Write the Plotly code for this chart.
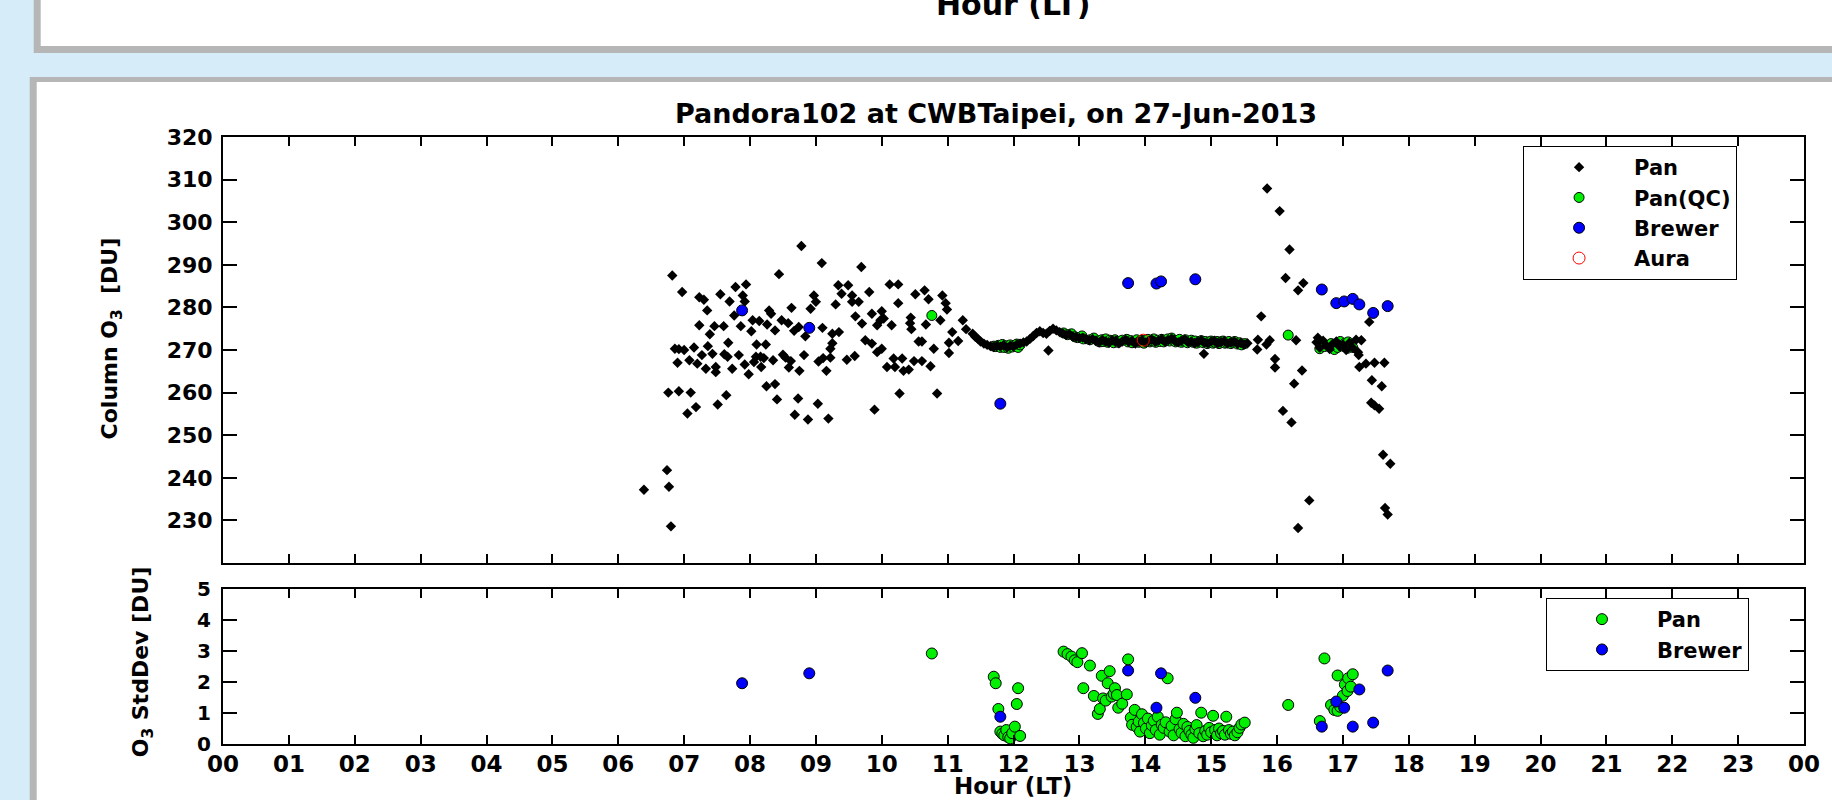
import plotly.graph_objects as go

# ---------------- data ----------------
pan_hour = [6.39, 6.74, 6.77, 6.80, 6.76, 6.92, 7.10, 7.05, 7.18, 6.82, 6.97, 7.23, 7.30, 7.55, 7.78, 7.94,
            7.89, 7.69, 7.92, 7.35, 7.76, 8.29, 8.32, 8.63, 8.92, 8.97, 9.00, 8.44, 8.78, 9.09, 9.69, 9.34,
            9.49, 9.39, 9.55, 9.81, 9.55, 9.65, 9.30, 7.23, 7.46, 7.60, 7.39, 8.04, 8.14, 8.26, 7.86, 8.02,
            8.38, 8.48, 8.58, 8.67, 8.74, 9.10, 8.84, 9.25, 9.35, 9.60, 9.70, 9.85, 9.75, 9.85, 9.93, 6.86,
            6.92, 7.00, 7.15, 7.36, 7.67, 8.10, 8.24, 9.25, 9.22, 6.90, 7.08, 7.20, 7.27, 7.43, 7.61, 7.66,
            7.83, 7.33, 7.48, 7.48, 7.73, 7.92, 7.98, 8.09, 8.16, 8.21, 8.06, 8.17, 8.35, 8.50, 8.54, 8.62,
            8.82, 8.59, 8.75, 9.04, 9.11, 9.22, 9.16, 9.47, 9.59, 8.25, 8.38, 7.64, 7.51, 8.41, 8.73, 9.03,
            8.68, 8.88, 9.19, 9.89,
            10.12, 10.25, 10.25, 10.51, 10.65, 10.71, 10.92, 10.97, 10.99, 10.00, 10.03, 9.98, 9.93, 10.15,
            10.44, 10.43, 10.45, 10.67, 10.89, 11.23, 11.28, 11.07, 11.02, 11.16, 10.00, 10.56, 10.61, 10.79,
            11.02, 10.18, 10.31, 10.49, 10.61, 10.08, 10.20, 10.33, 10.41, 10.74, 10.27, 10.84,
            11.38, 11.42, 11.46, 11.50, 11.55, 11.60, 11.65, 11.70, 11.75, 11.80, 11.85, 11.90, 11.95, 12.00,
            12.05, 12.10, 12.15, 12.20, 12.25, 12.30, 12.35, 12.40, 12.45, 12.50, 12.55, 12.60, 12.65, 12.70,
            12.53, 12.75, 12.80, 12.85, 12.90, 12.95, 13.00, 13.05, 13.10, 13.15, 13.20, 13.25, 13.30, 13.35,
            13.40, 13.45, 13.50, 13.55, 13.60, 13.65, 13.70, 13.75, 13.80, 13.85, 13.90, 13.95, 14.00, 14.05,
            14.10, 14.15, 14.20, 14.25, 14.30, 14.35, 14.40, 14.45, 14.50, 14.55, 14.60, 14.65, 14.70, 14.75,
            14.80, 14.85, 14.90, 14.95, 15.00, 15.05, 15.10, 15.15, 15.20, 15.25, 15.30, 15.35, 15.40, 15.45,
            15.50, 15.55, 14.89,
            15.70, 15.71, 15.76, 15.84, 15.89, 15.85, 16.04, 16.19, 16.13, 16.40, 16.32, 16.62, 16.29, 15.97,
            15.97, 16.38, 16.26, 16.09, 16.22, 16.49, 16.32, 17.28, 17.23, 17.24, 17.25, 17.35, 17.48, 17.63,
            17.40, 17.44, 17.59, 17.43, 17.48, 17.55, 17.61, 17.72, 17.64, 17.68,
            16.60, 16.65, 16.70, 16.75, 16.80, 16.85, 16.90, 16.95, 17.00, 17.05, 17.10, 17.15, 17.20]
pan_o3 = [237.2, 241.8, 237.9, 228.6, 260.0, 260.3, 260.0, 255.1, 256.6, 287.5, 283.6, 282.4, 281.8, 283.1, 284.8, 285.4,
          282.8, 281.4, 281.4, 279.3, 278.1, 279.3, 278.5, 279.9, 279.7, 282.8, 281.3, 287.8, 294.4, 290.4, 289.5, 285.2,
          285.2, 283.2, 282.8, 283.6, 281.3, 281.3, 280.7, 275.8, 275.6, 275.6, 273.7, 277.0, 276.8, 276.0, 275.6, 274.4,
          274.6, 277.0, 276.3, 274.5, 275.4, 275.2, 273.2, 273.8, 274.2, 277.9, 276.2, 278.5, 272.3, 271.5, 269.5, 270.3,
          270.2, 270.0, 270.6, 270.9, 271.7, 271.3, 271.3, 271.6, 270.3, 267.0, 267.6, 266.8, 268.8, 269.1, 269.0, 268.4,
          268.8, 265.6, 266.0, 264.8, 265.6, 266.6, 264.3, 268.4, 268.4, 268.1, 267.2, 266.0, 267.6, 268.9, 268.2, 267.4,
          268.8, 265.9, 265.1, 267.3, 268.1, 268.2, 265.1, 267.7, 268.6, 261.5, 262.0, 259.4, 257.2, 258.4, 258.6, 257.4,
          254.8, 253.7, 253.9, 256.0,
          285.4, 285.4, 281.0, 283.1, 284.0, 281.9, 282.8, 281.0, 279.5, 279.1, 277.4, 277.0, 275.8, 275.8,
          277.6, 276.3, 274.9, 276.0, 277.0, 277.0, 274.9, 274.2, 271.7, 272.1, 270.3, 272.0, 272.0, 270.3,
          269.3, 268.0, 268.0, 267.4, 267.4, 266.0, 266.0, 265.1, 265.4, 266.2, 259.8, 259.8,
          273.8, 273.1, 272.6, 272.0, 271.5, 271.2, 270.9, 270.7, 271.0, 270.8, 271.2, 270.6, 271.0, 270.8,
          271.3, 271.5, 271.8, 272.0, 272.6, 273.3, 274.0, 274.4, 274.0, 273.8, 274.5, 275.0, 274.6, 274.2,
          269.9, 273.9, 273.5, 273.7, 273.2, 273.0, 272.8, 272.9, 272.5, 272.3, 272.6, 272.2, 271.8, 272.4,
          272.0, 271.7, 272.3, 272.1, 271.6, 272.0, 272.4, 271.9, 272.2, 271.5, 272.0, 272.3, 271.8, 272.1,
          272.5, 271.9, 272.2, 272.6, 272.0, 272.3, 272.7, 272.1, 271.8, 272.2, 272.5, 271.9, 272.0, 271.6,
          271.9, 272.3, 271.7, 271.5, 272.0, 272.2, 271.6, 271.9, 272.1, 271.5, 271.8, 272.0, 271.4, 271.7,
          271.3, 271.6, 269.1,
          270.1, 272.4, 277.9, 271.3, 272.3, 307.9, 302.6, 293.6, 286.9, 285.7, 284.0, 272.9, 272.3, 267.9,
          265.9, 265.2, 262.1, 255.7, 253.0, 234.7, 228.2, 272.3, 269.5, 268.8, 266.0, 266.8, 267.0, 267.0,
          276.6, 262.9, 261.5, 257.6, 257.0, 256.2, 245.4, 243.3, 232.9, 231.4,
          271.8, 270.5, 272.2, 271.0, 270.2, 271.5, 272.0, 270.8, 271.3, 270.0, 271.7, 270.5, 272.4]

qc_hour = [10.76, 11.70, 11.73, 11.77, 11.80, 11.83, 11.86, 11.89, 11.92, 11.95, 11.98, 12.02, 12.05, 12.07, 12.10,
           12.76, 12.82, 12.88, 12.93, 12.97, 13.04, 13.06, 13.16, 13.22, 13.28, 13.31, 13.34, 13.36, 13.40, 13.43,
           13.46, 13.49, 13.52, 13.54, 13.57, 13.59, 13.65, 13.72, 13.74, 13.78, 13.80, 13.84, 13.87, 13.90, 13.92,
           13.95, 13.98, 14.01, 14.04, 14.07, 14.10, 14.13, 14.16, 14.19, 14.22, 14.25, 14.28, 14.31, 14.34, 14.37,
           14.40, 14.43, 14.46, 14.48, 14.52, 14.55, 14.58, 14.61, 14.64, 14.67, 14.70, 14.73, 14.76, 14.78, 14.82,
           14.85, 14.88, 14.91, 14.94, 14.97, 15.00, 15.03, 15.06, 15.09, 15.12, 15.15, 15.18, 15.21, 15.23, 15.27,
           15.30, 15.33, 15.36, 15.40, 15.43, 15.46, 15.51, 16.17, 16.65, 16.72, 16.82, 16.87, 16.92, 16.92, 16.96,
           17.00, 17.03, 17.07, 17.08, 17.12, 17.15]
qc_o3 = [278.1, 270.9, 270.8, 271.1, 270.6, 271.3, 270.6, 271.0, 270.4, 271.2, 270.7, 271.0, 271.4, 270.6, 271.2,
         274.0, 273.6, 273.8, 273.1, 272.9, 273.3, 272.6, 272.4, 272.8, 272.1, 271.9, 272.4, 272.0, 272.6, 271.8,
         272.3, 272.1, 271.7, 272.4, 272.0, 271.8, 272.3, 272.5, 271.9, 272.2, 271.7, 272.0, 272.4, 271.8, 272.1,
         272.3, 271.6, 272.0, 272.5, 271.9, 272.2, 272.6, 271.8, 272.3, 272.0, 272.5, 271.9, 272.2, 272.6, 272.1,
         272.8, 272.3, 271.9, 272.2, 272.5, 271.8, 272.1, 272.4, 271.7, 272.0, 272.3, 271.8, 272.1, 271.6, 271.9,
         272.2, 271.7, 272.0, 271.5, 271.9, 272.1, 271.6, 271.8, 272.0, 271.5, 271.9, 272.1, 271.6, 271.8, 272.0,
         271.5, 271.8, 272.0, 271.4, 271.7, 271.2, 271.5, 273.5, 270.3, 270.8, 271.5, 270.1, 271.2, 270.6, 272.0,
         270.9, 271.6, 270.4, 271.9, 271.0, 270.6]
qc_std = [2.92, 2.17, 1.96, 1.13, 0.40, 0.33, 0.28, 0.45, 0.22, 0.18, 0.35, 0.56, 1.29, 1.80, 0.26,
          2.98, 2.90, 2.82, 2.70, 2.64, 2.93, 1.80, 2.53, 1.55, 0.97, 1.13, 2.20, 1.47, 1.40, 1.96,
          2.35, 1.53, 1.62, 1.80, 1.58, 1.17, 1.30, 1.60, 2.73, 0.85, 0.62, 1.10, 0.55, 0.72, 0.40,
          0.96, 0.68, 0.50, 0.82, 0.35, 0.60, 0.75, 0.45, 0.88, 0.30, 0.62, 0.52, 0.70, 2.12, 0.40,
          0.58, 0.28, 0.80, 1.01, 0.48, 0.36, 0.65, 0.25, 0.55, 0.42, 0.30, 0.20, 0.48, 0.61, 0.35,
          1.01, 0.25, 0.42, 0.30, 0.52, 0.38, 0.91, 0.45, 0.28, 0.50, 0.35, 0.42, 0.30, 0.88, 0.45,
          0.33, 0.40, 0.28, 0.38, 0.52, 0.63, 0.69, 1.26, 0.74, 2.76, 1.26, 1.10, 1.07, 2.21, 1.20,
          1.56, 1.92, 1.71, 2.12, 1.85, 2.25]

brewer_hour = [7.88, 8.90, 11.80, 13.74, 14.17, 14.24, 14.76, 16.68, 16.90, 17.02, 17.15, 17.25, 17.46, 17.68]
brewer_o3 = [279.3, 275.2, 257.4, 285.7, 285.6, 286.1, 286.6, 284.2, 281.0, 281.4, 282.0, 280.7, 278.7, 280.3]
brewer_std = [1.96, 2.28, 0.88, 2.37, 1.17, 2.28, 1.49, 0.56, 1.37, 1.17, 0.56, 1.76, 0.69, 2.37]

aura_hour = [13.97]
aura_o3 = [272.3]

hour_ticks = list(range(0, 25))
hour_labels = ["00", "01", "02", "03", "04", "05", "06", "07", "08", "09", "10", "11", "12",
               "13", "14", "15", "16", "17", "18", "19", "20", "21", "22", "23", "00"]
o3_ticks = [230, 240, 250, 260, 270, 280, 290, 300, 310, 320]
std_ticks = [0, 1, 2, 3, 4, 5]

# ---------------- layout helpers (pixel -> paper) ----------------
W, H = 1832, 800
L, R, T, B = 223, 1810, 137, 744


def px(p):
    return (p - L) / (R - L)


def py(p):
    return (B - p) / (B - T)


FONT = "DejaVu Sans"
BG = "#D6ECF8"
GREY = "#B6B6B6"

fig = go.Figure()

# top panel traces
fig.add_trace(go.Scatter(x=qc_hour, y=qc_o3, mode="markers", name="Pan(QC)", legendrank=2,
                         marker=dict(symbol="circle", size=10, color="#00F000",
                                     line=dict(color="black", width=1)),
                         xaxis="x", yaxis="y", legend="legend"))
fig.add_trace(go.Scatter(x=pan_hour, y=pan_o3, mode="markers", name="Pan", legendrank=1,
                         marker=dict(symbol="diamond", size=8, color="black"),
                         xaxis="x", yaxis="y", legend="legend"))
fig.add_trace(go.Scatter(x=brewer_hour, y=brewer_o3, mode="markers", name="Brewer", legendrank=3,
                         marker=dict(symbol="circle", size=11, color="#0000FF",
                                     line=dict(color="black", width=1)),
                         xaxis="x", yaxis="y", legend="legend"))
fig.add_trace(go.Scatter(x=aura_hour, y=aura_o3, mode="markers", name="Aura", legendrank=4,
                         marker=dict(symbol="circle-open", size=12, color="red",
                                     line=dict(color="red", width=1)),
                         xaxis="x", yaxis="y", legend="legend"))

# bottom panel traces
fig.add_trace(go.Scatter(x=qc_hour, y=qc_std, mode="markers", name="Pan",
                         marker=dict(symbol="circle", size=11, color="#00F000",
                                     line=dict(color="black", width=1)),
                         xaxis="x2", yaxis="y2", legend="legend2"))
fig.add_trace(go.Scatter(x=brewer_hour, y=brewer_std, mode="markers", name="Brewer",
                         marker=dict(symbol="circle", size=11, color="#0000FF",
                                     line=dict(color="black", width=1)),
                         xaxis="x2", yaxis="y2", legend="legend2"))

ytickfont = dict(family=FONT, size=22, color="black", weight="bold")
y2tickfont = dict(family=FONT, size=20, color="black", weight="bold")
xtickfont = dict(family=FONT, size=23, color="black", weight="bold")
axis_common = dict(showline=True, linecolor="black", linewidth=2, mirror="ticks", ticks="inside",
                   tickcolor="black", tickwidth=2, showgrid=False, zeroline=False)

legend_common = dict(bgcolor="white", bordercolor="black", borderwidth=1, xanchor="left", yanchor="top",
                     font=dict(family=FONT, size=21, color="black", weight="bold"),
                     itemwidth=100, tracegroupgap=0)

fig.update_layout(
    width=W, height=H,
    margin=dict(l=L, r=W - R, t=T, b=H - B, pad=0),
    paper_bgcolor=BG, plot_bgcolor="white",
    showlegend=True,
    xaxis=dict(domain=[0, 1], anchor="y", range=[0, 24], tickvals=hour_ticks, showticklabels=False,
               ticklen=9, **axis_common),
    yaxis=dict(domain=[py(563), 1], anchor="x", range=[220, 320], tickvals=o3_ticks,
               ticktext=[str(v) for v in o3_ticks], tickfont=ytickfont, ticklen=14,
               ticklabelstandoff=4, **axis_common),
    xaxis2=dict(domain=[0, 1], anchor="y2", range=[0, 24], tickvals=hour_ticks, ticktext=hour_labels,
                tickfont=xtickfont, ticklen=9, ticklabelstandoff=-2, **axis_common),
    yaxis2=dict(domain=[0, py(589)], anchor="x2", range=[0, 5], tickvals=std_ticks,
                ticktext=[str(v) for v in std_ticks], tickfont=y2tickfont, ticklen=14,
                ticklabelstandoff=6, **axis_common),
    legend=dict(x=px(1528), y=py(146), **legend_common),
    legend2=dict(x=px(1551), y=py(598), **legend_common),
    shapes=[
        dict(type="rect", xref="paper", yref="paper", x0=px(33), x1=px(1845), y0=py(53), y1=py(-10),
             fillcolor=GREY, line=dict(width=0), layer="below"),
        dict(type="rect", xref="paper", yref="paper", x0=px(40), x1=px(1845), y0=py(46), y1=py(-10),
             fillcolor="white", line=dict(width=0), layer="below"),
        dict(type="rect", xref="paper", yref="paper", x0=px(29), x1=px(1845), y0=py(810), y1=py(77),
             fillcolor=GREY, line=dict(width=0), layer="below"),
        dict(type="rect", xref="paper", yref="paper", x0=px(36), x1=px(1845), y0=py(810), y1=py(82),
             fillcolor="white", line=dict(width=0), layer="below"),
    ],
    annotations=[
        dict(text="Pandora102 at CWBTaipei, on 27-Jun-2013", xref="paper", yref="paper",
             x=px(999), y=py(114), xanchor="center", yanchor="middle", showarrow=False,
             font=dict(family=FONT, size=27, color="black", weight="bold")),
        dict(text="Column O<sub>3</sub>  [DU]", xref="paper", yref="paper", textangle=-90,
             x=px(111), y=py(338), xanchor="center", yanchor="middle", showarrow=False,
             font=dict(family=FONT, size=22, color="black", weight="bold")),
        dict(text="O<sub>3</sub> StdDev [DU]", xref="paper", yref="paper", textangle=-90,
             x=px(142), y=py(662), xanchor="center", yanchor="middle", showarrow=False,
             font=dict(family=FONT, size=22, color="black", weight="bold")),
        dict(text="Hour (LT)", xref="paper", yref="paper",
             x=px(1016), y=py(786), xanchor="center", yanchor="middle", showarrow=False,
             font=dict(family=FONT, size=23, color="black", weight="bold")),
        dict(text="Hour (LT)", xref="paper", yref="paper",
             x=px(1016), y=py(5), xanchor="center", yanchor="middle", showarrow=False,
             font=dict(family=FONT, size=30, color="black", weight="bold")),
    ],
)

fig.write_html("out.html")
